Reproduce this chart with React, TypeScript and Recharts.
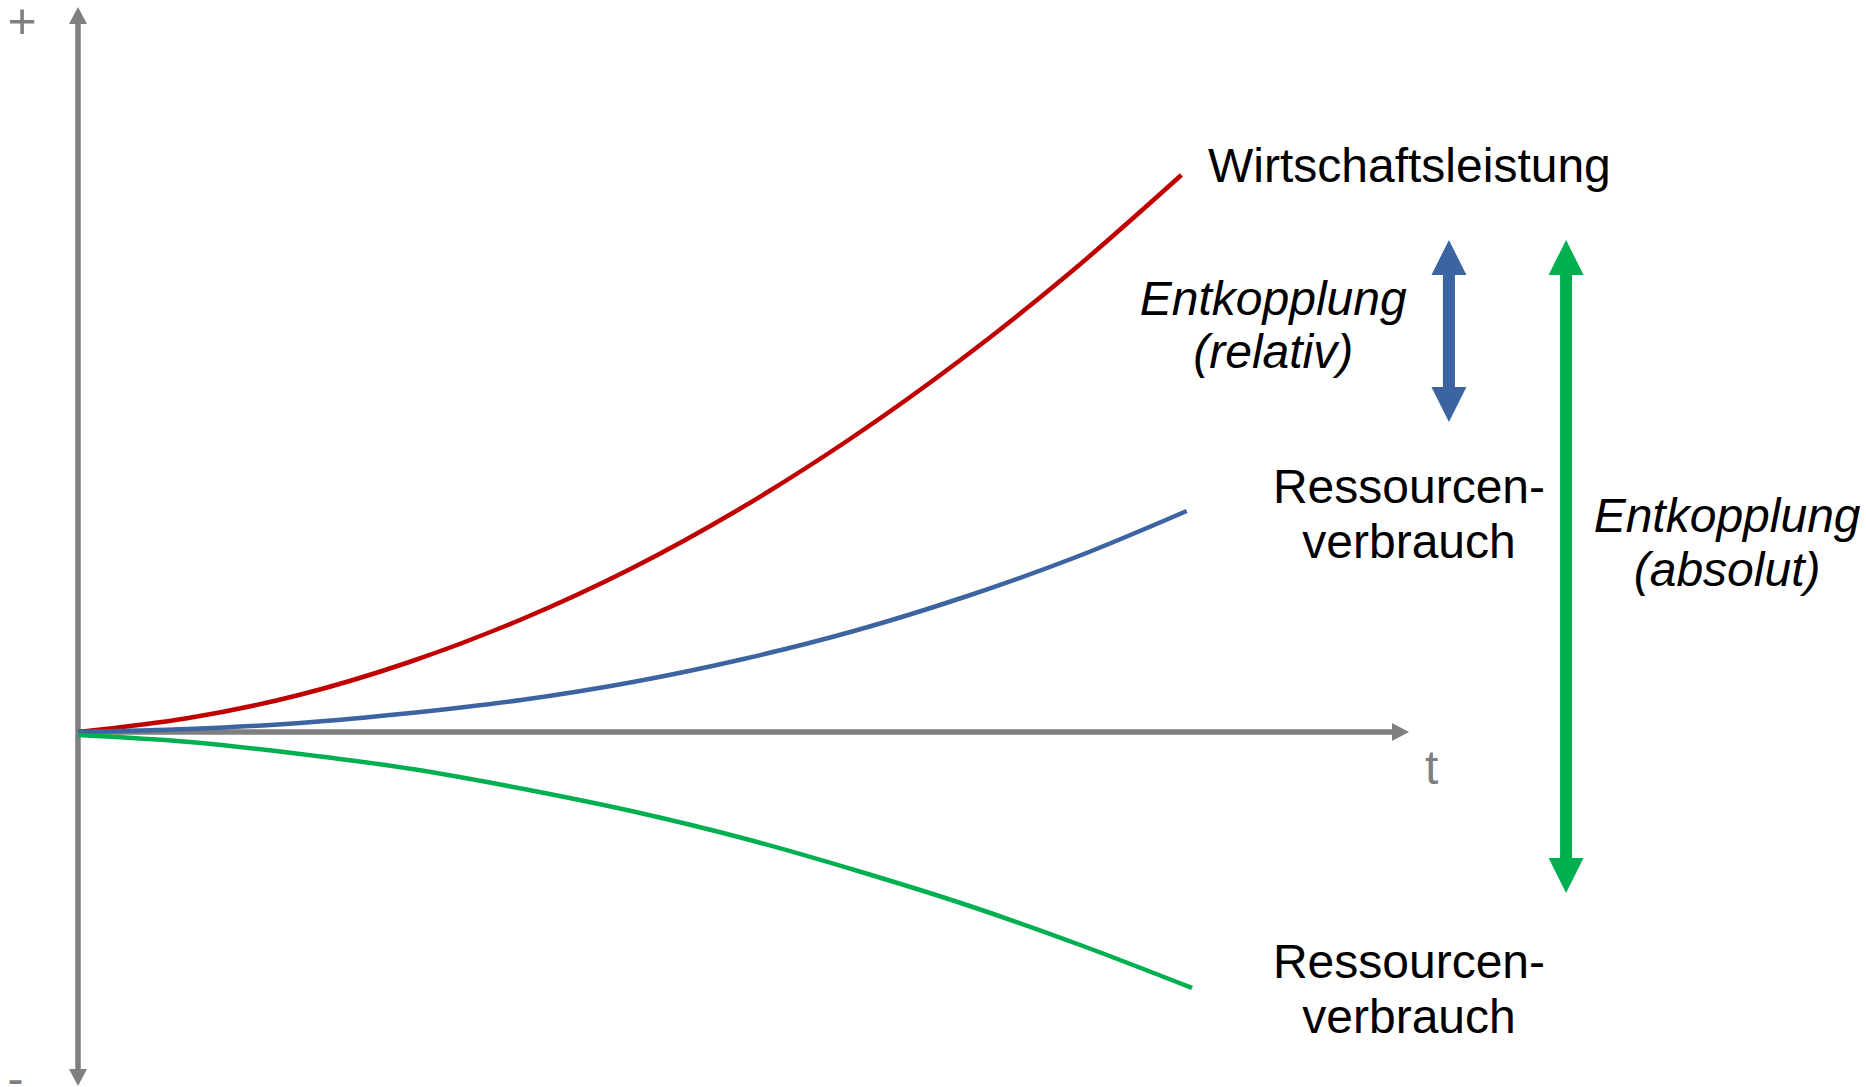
import React from "react";
import { LineChart, Line, XAxis, YAxis, ReferenceLine, ReferenceDot } from "recharts";

// time axis runs 0..100, value axis in arbitrary units (0 = x axis)
const redTime = [0, 8.3, 16.6, 24.9, 33.2, 41.5, 49.7, 58.0, 66.3, 74.6, 82.9];
const wirtschaftsleistung = [0, 14, 37, 70, 112, 163, 223, 293, 372, 460, 557];

const blueTime = [0, 8.3, 16.7, 25.0, 33.3, 41.7, 50.0, 58.3, 66.6, 75.0, 83.3];
const verbrauchRelativ = [0, 3, 9, 19, 32, 50, 73, 101, 135, 175, 221];

const greenTime = [0, 8.4, 16.7, 25.1, 33.5, 41.9, 50.2, 58.6, 67.0, 75.3, 83.7];
const verbrauchAbsolut = [-3, -10, -22, -37, -57, -80, -107, -139, -174, -213, -256];

const FONT = "'Liberation Sans', Arial, sans-serif";
const GRAY = "#7f7f7f";
const RED = "#c00000";
const BLUE = "#3b64a0";
const GREEN = "#00b050";

const rows = (time: number[], values: number[]) =>
  time.map((t, i) => ({ t, v: values[i] }));

type ArrowOpts = {
  color: string;
  shaft: number;
  headLen: number;
  headW: number;
  both: boolean;
};

function arrowShape(opts: ArrowOpts) {
  return (p: any) => {
    const { x1, y1, x2, y2 } = p;
    const dx = x2 - x1;
    const dy = y2 - y1;
    const len = Math.hypot(dx, dy) || 1;
    const ux = dx / len;
    const uy = dy / len;
    const nx = -uy;
    const ny = ux;
    const h = opts.headLen;
    const w = opts.headW / 2;
    const head = (tx: number, ty: number, dx1: number, dy1: number) => {
      const bx = tx - dx1 * h;
      const by = ty - dy1 * h;
      return `${tx},${ty} ${bx + nx * w},${by + ny * w} ${bx - nx * w},${by - ny * w}`;
    };
    const sx = opts.both ? x1 + ux * (h - 1) : x1;
    const sy = opts.both ? y1 + uy * (h - 1) : y1;
    return (
      <g>
        <line
          x1={sx}
          y1={sy}
          x2={x2 - ux * (h - 1)}
          y2={y2 - uy * (h - 1)}
          stroke={opts.color}
          strokeWidth={opts.shaft}
        />
        <polygon points={head(x2, y2, ux, uy)} fill={opts.color} />
        {opts.both && <polygon points={head(x1, y1, -ux, -uy)} fill={opts.color} />}
      </g>
    );
  };
}

function textShape(lines: string[], opts: { anchor?: string; italic?: boolean; color?: string; size?: number; gap?: number }) {
  return (p: any) => (
    <text
      x={p.cx}
      y={p.cy}
      textAnchor={opts.anchor || "middle"}
      fontFamily={FONT}
      fontSize={opts.size || 48}
      fontStyle={opts.italic ? "italic" : "normal"}
      fill={opts.color || "#000"}
    >
      {lines.map((l, i) => (
        <tspan key={i} x={p.cx} dy={i === 0 ? 0 : opts.gap || 54}>
          {l}
        </tspan>
      ))}
    </text>
  );
}

export default function App() {
  return (
    <div style={{ position: "absolute", left: 0, top: 0, background: "#fff" }}>
      <LineChart width={1866} height={1087} margin={{ top: 7, right: 457, bottom: 1, left: 78 }}>
        <XAxis type="number" dataKey="t" domain={[0, 100]} allowDataOverflow hide />
        <YAxis type="number" dataKey="v" domain={[-354, 725]} allowDataOverflow hide />

        <ReferenceLine
          segment={[{ x: 0, y: 0 }, { x: 100, y: 0 }]}
          ifOverflow="visible"
          shape={arrowShape({ color: GRAY, shaft: 5.5, headLen: 17, headW: 18, both: false })}
        />
        <ReferenceLine
          segment={[{ x: 0, y: -354 }, { x: 0, y: 725 }]}
          ifOverflow="visible"
          shape={arrowShape({ color: GRAY, shaft: 5.5, headLen: 17, headW: 18, both: true })}
        />

        <Line data={rows(redTime, wirtschaftsleistung)} dataKey="v" type="monotone" stroke={RED} strokeWidth={4.5} dot={false} isAnimationActive={false} />
        <Line data={rows(blueTime, verbrauchRelativ)} dataKey="v" type="monotone" stroke={BLUE} strokeWidth={4.5} dot={false} isAnimationActive={false} />
        <Line data={rows(greenTime, verbrauchAbsolut)} dataKey="v" type="monotone" stroke={GREEN} strokeWidth={4.5} dot={false} isAnimationActive={false} />

        <ReferenceLine
          segment={[{ x: 103.0, y: 492 }, { x: 103.0, y: 310 }]}
          ifOverflow="visible"
          shape={arrowShape({ color: BLUE, shaft: 12, headLen: 35, headW: 35, both: true })}
        />
        <ReferenceLine
          segment={[{ x: 111.8, y: 492 }, { x: 111.8, y: -161 }]}
          ifOverflow="visible"
          shape={arrowShape({ color: GREEN, shaft: 12, headLen: 35, headW: 35, both: true })}
        />

        <ReferenceDot x={84.9} y={550} r={0} ifOverflow="visible" shape={textShape(["Wirtschaftsleistung"], { anchor: "start" })} />
        <ReferenceDot x={89.8} y={417} r={0} ifOverflow="visible" shape={textShape(["Entkopplung", "(relativ)"], { italic: true, gap: 53 })} />
        <ReferenceDot x={100} y={229} r={0} ifOverflow="visible" shape={textShape(["Ressourcen-", "verbrauch"], { gap: 55 })} />
        <ReferenceDot x={123.9} y={200} r={0} ifOverflow="visible" shape={textShape(["Entkopplung", "(absolut)"], { italic: true, gap: 54 })} />
        <ReferenceDot x={100} y={-246} r={0} ifOverflow="visible" shape={textShape(["Ressourcen-", "verbrauch"], { gap: 55 })} />
        <ReferenceDot x={101.7} y={-52} r={0} ifOverflow="visible" shape={textShape(["t"], { color: GRAY })} />
        <ReferenceDot x={-4.2} y={694} r={0} ifOverflow="visible" shape={textShape(["+"], { color: GRAY, size: 50 })} />
        <ReferenceDot x={-4.7} y={-363} r={0} ifOverflow="visible" shape={textShape(["-"], { color: GRAY })} />
      </LineChart>
    </div>
  );
}
